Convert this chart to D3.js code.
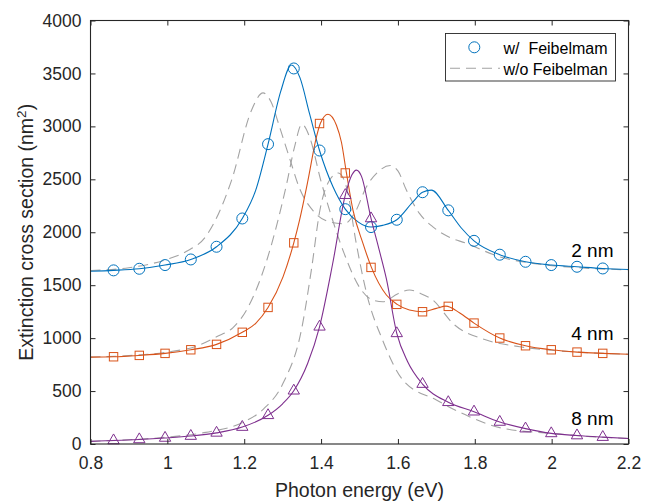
<!DOCTYPE html>
<html><head><meta charset="utf-8">
<script src="https://cdn.jsdelivr.net/npm/d3@7"></script>
<style>
html,body{margin:0;padding:0;background:#fff;}
svg{display:block;font-family:"Liberation Sans",Arial,Helvetica,sans-serif;}
</style></head>
<body><svg id="c" width="656" height="501"></svg>
<script>
// ---- data ----
const xTicks = [0.8, 1.0, 1.2, 1.4, 1.6, 1.8, 2.0, 2.2];
const xTickLabels = ["0.8", "1", "1.2", "1.4", "1.6", "1.8", "2", "2.2"];
const yTicks = [0, 500, 1000, 1500, 2000, 2500, 3000, 3500, 4000];
const yTickLabels = ["0", "500", "1000", "1500", "2000", "2500", "3000", "3500", "4000"];

// w/ Feibelman, 2 nm (solid curve)
const x2nm = [0.80, 0.86, 0.927, 0.994, 1.061, 1.128, 1.195, 1.23, 1.262, 1.295, 1.323, 1.345, 1.37, 1.396, 1.431, 1.463, 1.496, 1.53, 1.56, 1.597, 1.639, 1.664, 1.687, 1.731, 1.765, 1.798, 1.865, 1.932, 1.999, 2.066, 2.133, 2.2];
const v2nm = [1632, 1640, 1655, 1690, 1743, 1863, 2130, 2398, 2832, 3330, 3580, 3460, 3120, 2772, 2429, 2218, 2098, 2049, 2065, 2118, 2287, 2378, 2398, 2207, 2040, 1919, 1788, 1721, 1690, 1674, 1658, 1648];
// w/ Feibelman, 4 nm
const x4nm = [0.80, 0.86, 0.927, 0.994, 1.061, 1.128, 1.195, 1.23, 1.262, 1.301, 1.329, 1.344, 1.366, 1.388, 1.398, 1.418, 1.44, 1.453, 1.466, 1.483, 1.509, 1.531, 1.570, 1.598, 1.630, 1.665, 1.700, 1.725, 1.76, 1.798, 1.865, 1.932, 1.999, 2.066, 2.133, 2.2];
const v4nm = [821, 824, 837, 856, 890, 941, 1055, 1140, 1290, 1579, 1900, 2115, 2492, 2901, 3027, 3115, 3010, 2850, 2560, 2209, 1895, 1668, 1407, 1319, 1265, 1249, 1281, 1302, 1240, 1142, 1001, 928, 890, 868, 856, 847];
// w/ Feibelman, 8 nm
const x8nm = [0.80, 0.86, 0.927, 0.994, 1.061, 1.128, 1.195, 1.262, 1.30, 1.329, 1.365, 1.396, 1.43, 1.463, 1.48, 1.492, 1.505, 1.53, 1.55, 1.57, 1.597, 1.625, 1.664, 1.731, 1.798, 1.865, 1.932, 1.999, 2.066, 2.133, 2.2];
const v8nm = [25, 33, 43, 57, 75, 105, 160, 271, 380, 503, 760, 1107, 1700, 2350, 2540, 2587, 2530, 2130, 1850, 1560, 1045, 780, 566, 394, 305, 208, 145, 100, 80, 65, 52];

// marker positions (photon energy) and marker values
const markerX = [0.86, 0.927, 0.994, 1.061, 1.128, 1.195, 1.262, 1.329, 1.396, 1.463, 1.53, 1.597, 1.664, 1.731, 1.798, 1.865, 1.932, 1.999, 2.066, 2.133];
const m2nm = [1640, 1655, 1690, 1743, 1863, 2130, 2832, 3547, 2772, 2218, 2049, 2118, 2378, 2207, 1919, 1788, 1721, 1690, 1674, 1658];
const m4nm = [824, 837, 856, 890, 941, 1055, 1290, 1900, 3027, 2560, 1668, 1319, 1249, 1300, 1142, 1001, 928, 890, 868, 856];
const m8nm = [33, 43, 57, 75, 105, 160, 271, 503, 1107, 2350, 2130, 1045, 566, 394, 305, 208, 145, 100, 80, 65];

// w/o Feibelman (dashed)
const xNo2 = [0.80, 0.90, 1.0, 1.05, 1.10, 1.167, 1.219, 1.249, 1.27, 1.292, 1.318, 1.344, 1.38, 1.42, 1.46, 1.49, 1.518, 1.548, 1.58, 1.60, 1.622, 1.656, 1.691, 1.73, 1.778, 1.865, 1.951, 2.05, 2.2];
const vNo2 = [1638, 1665, 1745, 1820, 1960, 2490, 3153, 3316, 3230, 2995, 2700, 2414, 2200, 2100, 2080, 2200, 2429, 2570, 2630, 2580, 2398, 2178, 2051, 1960, 1895, 1768, 1706, 1670, 1645];
const xNo4 = [0.80, 0.90, 1.0, 1.08, 1.128, 1.171, 1.206, 1.26, 1.31, 1.331, 1.35, 1.37, 1.40, 1.422, 1.46, 1.50, 1.535, 1.561, 1.60, 1.630, 1.66, 1.691, 1.743, 1.830, 1.917, 2.0, 2.1, 2.2];
const vNo4 = [821, 835, 868, 930, 1013, 1100, 1265, 1750, 2450, 2807, 3020, 2900, 2480, 2209, 1800, 1480, 1359, 1343, 1420, 1454, 1420, 1359, 1139, 982, 919, 885, 862, 848];
const xNo8 = [0.80, 0.9, 1.0, 1.1, 1.2, 1.25, 1.301, 1.349, 1.375, 1.397, 1.42, 1.445, 1.468, 1.49, 1.52, 1.56, 1.613, 1.70, 1.786, 1.873, 2.0, 2.1, 2.2];
const vNo8 = [25, 40, 65, 110, 210, 330, 573, 1080, 1650, 2209, 2480, 2560, 2400, 1926, 1400, 982, 604, 415, 258, 148, 100, 70, 52];

const sizeLabels = ["2 nm", "4 nm", "8 nm"];
const sizeLabelX = [2.051, 2.051, 2.051];
const sizeLabelV = [1770, 982, 180];
const legendLabels = ["w/  Feibelmam", "w/o Feibelman"];

// ---- drawing ----
const svg = d3.select("#c");
const L = 90.5, R = 628.5, T = 20.5, B = 444;
const x = d3.scaleLinear().domain([0.8, 2.2]).range([L, R]);
const y = d3.scaleLinear().domain([0, 4000]).range([B, T]);
const ink = "#262626";
const C2 = "#0072BD", C4 = "#D95319", C8 = "#7E2F8E", CG = "#a3a3a3";

svg.append("defs").append("clipPath").attr("id", "clip")
  .append("rect").attr("x", L).attr("y", T).attr("width", R - L).attr("height", B - T);

const plot = svg.append("g").attr("clip-path", "url(#clip)");
const line = d3.line().x(d => x(d[0])).y(d => y(d[1])).curve(d3.curveMonotoneX);
const zip = (a, b) => a.map((v, i) => [v, b[i]]);

// dashed
[[xNo2, vNo2], [xNo4, vNo4], [xNo8, vNo8]].forEach(([xs, vs]) => {
  plot.append("path").attr("d", line(zip(xs, vs)))
    .attr("fill", "none").attr("stroke", CG).attr("stroke-width", 1.1)
    .attr("stroke-dasharray", "10,6");
});
// solid
[[x2nm, v2nm, C2], [x4nm, v4nm, C4], [x8nm, v8nm, C8]].forEach(([xs, vs, c]) => {
  plot.append("path").attr("d", line(zip(xs, vs)))
    .attr("fill", "none").attr("stroke", c).attr("stroke-width", 1.1);
});
// markers
const mk = svg.append("g");
mk.selectAll("circle.m2").data(zip(markerX, m2nm)).join("circle")
  .attr("cx", d => x(d[0])).attr("cy", d => y(d[1])).attr("r", 5.5)
  .attr("fill", "none").attr("stroke", C2).attr("stroke-width", 1);
mk.selectAll("rect.m4").data(zip(markerX, m4nm)).join("rect")
  .attr("x", d => x(d[0]) - 4.2).attr("y", d => y(d[1]) - 4.2).attr("width", 8.4).attr("height", 8.4)
  .attr("fill", "none").attr("stroke", C4).attr("stroke-width", 1);
const tri = d3.symbol().type(d3.symbolTriangle).size(56);
mk.selectAll("path.m8").data(zip(markerX, m8nm)).join("path")
  .attr("d", tri).attr("transform", d => `translate(${x(d[0])},${y(d[1])})`)
  .attr("fill", "none").attr("stroke", C8).attr("stroke-width", 1);

// axes box and ticks
const ax = svg.append("g");
const tickLen = 5;
const xb = d3.axisBottom(x).tickValues(xTicks).tickSizeInner(-tickLen).tickSizeOuter(0)
  .tickFormat((d, i) => xTickLabels[i]).tickPadding(13);
const xt = d3.axisTop(x).tickValues(xTicks).tickSizeInner(-tickLen).tickSizeOuter(0).tickFormat("");
const yl = d3.axisLeft(y).tickValues(yTicks).tickSizeInner(-tickLen).tickSizeOuter(0)
  .tickFormat((d, i) => yTickLabels[i]).tickPadding(9);
const yr = d3.axisRight(y).tickValues(yTicks).tickSizeInner(-tickLen).tickSizeOuter(0).tickFormat("");
[[xb, `translate(0,${B})`], [xt, `translate(0,${T})`], [yl, `translate(${L},0)`], [yr, `translate(${R},0)`]]
  .forEach(([a, t]) => {
    const g = ax.append("g").attr("transform", t).call(a);
    g.select(".domain").remove();
    g.selectAll("line").attr("stroke", ink).attr("stroke-width", 1);
    g.selectAll("text").attr("fill", ink).style("font-size", "17.5px")
      .style("font-family", '"Liberation Sans",Arial,sans-serif');
  });
ax.append("rect").attr("x", L).attr("y", T).attr("width", R - L).attr("height", B - T)
  .attr("fill", "none").attr("stroke", ink).attr("stroke-width", 1.1);

// axis labels
svg.append("text").attr("x", (L + R) / 2).attr("y", 497).attr("text-anchor", "middle")
  .attr("fill", ink).style("font-size", "19.5px").text("Photon energy (eV)");
const yt = svg.append("text").attr("transform", `translate(32.5,${(T + B) / 2}) rotate(-90)`)
  .attr("text-anchor", "middle").attr("fill", ink).style("font-size", "19.5px");
yt.append("tspan").text("Extinction cross section (nm");
yt.append("tspan").attr("dy", -7).style("font-size", "13.5px").text("2");
yt.append("tspan").attr("dy", 7).text(")");

// size annotations
sizeLabels.forEach((s, i) => {
  svg.append("text").attr("x", x(sizeLabelX[i])).attr("y", y(sizeLabelV[i]))
    .attr("fill", "#000").style("font-size", "19px").text(s);
});

// legend
const lg = svg.append("g");
lg.append("rect").attr("x", 445.5).attr("y", 33.5).attr("width", 170).attr("height", 47.5)
  .attr("fill", "#fff").attr("stroke", ink).attr("stroke-width", 0.9);
lg.append("circle").attr("cx", 474.3).attr("cy", 47.3).attr("r", 5.5)
  .attr("fill", "none").attr("stroke", C2).attr("stroke-width", 1);
lg.append("line").attr("x1", 450).attr("x2", 500).attr("y1", 68.3).attr("y2", 68.3)
  .attr("stroke", CG).attr("stroke-width", 1.1).attr("stroke-dasharray", "10,6");
lg.append("text").attr("x", 503.5).attr("y", 54).attr("fill", "#000").style("font-size", "16px")
  .style("white-space", "pre").attr("xml:space", "preserve").text(legendLabels[0]);
lg.append("text").attr("x", 503.5).attr("y", 75).attr("fill", "#000").style("font-size", "16px")
  .text(legendLabels[1]);
</script>
</body></html>
